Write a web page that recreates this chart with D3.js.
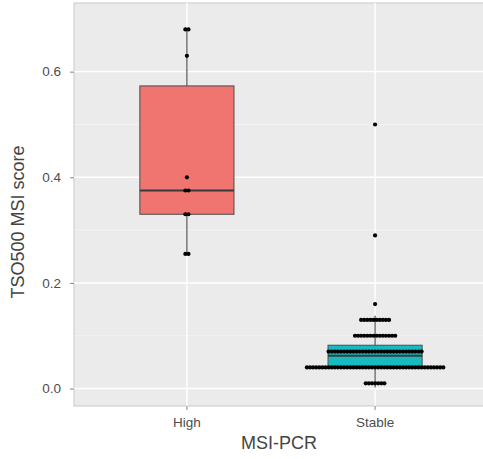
<!DOCTYPE html>
<html>
<head>
<meta charset="utf-8">
<script src="https://cdn.jsdelivr.net/npm/d3@7"></script>
<style>
  body { margin: 0; background: #fff; }
  svg { display: block; font-family: "Liberation Sans", Arial, sans-serif; }
</style>
</head>
<body>
<svg width="483" height="459"></svg>
<script>
// groups on the x axis
var groups = ["High", "Stable"];
var fills = ["#F07470", "#18BAC0"];

// box statistics: [lower whisker, q1, median, q3, upper whisker]
var boxHigh = [0.255, 0.330, 0.375, 0.573, 0.680];
var boxStable = [0.002, 0.041, 0.062, 0.082, 0.138];

// dot rows (binned value, number of dots in the row)
var dotsHighVal = [0.68, 0.63, 0.40, 0.375, 0.33, 0.255];
var dotsHighCnt = [2, 1, 1, 2, 2, 2];
var dotsStableVal = [0.50, 0.29, 0.16, 0.13, 0.10, 0.07, 0.04, 0.01];
var dotsStableCnt = [1, 1, 1, 10, 14, 31, 45, 7];

var yTicks = [0.0, 0.2, 0.4, 0.6];
var yMinor = [0.1, 0.3, 0.5];

window.onload = function() {
    makeChart();
}

function makeChart() {
    var svg = d3.select("svg");

    // panel edges (right edge runs past the window, as in the original)
    var left = 74, top = 3, right = 488, bottom = 406;

    // ggplot discrete scale: centres at left + 0.6 step, left + 1.6 step
    var step = (right - left) / 2.2;
    var cx = function(g) { return left + step * (0.6 + groups.indexOf(g)); };

    var y = d3.scaleLinear()
        .domain([-0.033, 0.730])
        .range([bottom, top]);

    // panel background
    svg.append("rect")
        .attr("x", left).attr("y", top)
        .attr("width", right - left).attr("height", bottom - top)
        .attr("fill", "#EBEBEB")
        .attr("stroke", "#C9C9C9")
        .attr("stroke-width", 1);

    // grid
    svg.selectAll(".minor").data(yMinor).enter().append("line")
        .attr("x1", left).attr("x2", right)
        .attr("y1", function(d) { return y(d); })
        .attr("y2", function(d) { return y(d); })
        .attr("stroke", "#F5F5F5").attr("stroke-width", 0.8);
    svg.selectAll(".major").data(yTicks).enter().append("line")
        .attr("x1", left).attr("x2", right)
        .attr("y1", function(d) { return y(d); })
        .attr("y2", function(d) { return y(d); })
        .attr("stroke", "#FFFFFF").attr("stroke-width", 1.4);
    svg.selectAll(".vgrid").data(groups).enter().append("line")
        .attr("x1", cx).attr("x2", cx)
        .attr("y1", top).attr("y2", bottom)
        .attr("stroke", "#FFFFFF").attr("stroke-width", 1.4);

    // y axis
    var yAxis = svg.append("g")
        .attr("transform", "translate(" + left + ",0)")
        .call(d3.axisLeft(y).tickValues(yTicks).tickFormat(d3.format(".1f")).tickSize(4).tickPadding(9));
    yAxis.select(".domain").remove();
    yAxis.selectAll("line").attr("stroke", "#888");
    yAxis.selectAll("text").attr("fill", "#4D4D4D").style("font-size", "13.5px")
        .style("font-family", "Liberation Sans, Arial, sans-serif");

    // x axis
    var xAxis = svg.append("g")
        .attr("transform", "translate(0," + bottom + ")");
    xAxis.selectAll("line").data(groups).enter().append("line")
        .attr("x1", cx).attr("x2", cx).attr("y1", 0).attr("y2", 4)
        .attr("stroke", "#888");
    xAxis.selectAll("text").data(groups).enter().append("text")
        .attr("x", cx).attr("y", 21)
        .attr("text-anchor", "middle")
        .attr("fill", "#4D4D4D")
        .style("font-size", "13.5px")
        .text(function(d) { return d; });

    // boxes
    var boxes = [boxHigh, boxStable];
    var bw = step * 0.5;
    groups.forEach(function(g, i) {
        var b = boxes[i];
        var c = cx(g);
        var gg = svg.append("g");
        gg.append("line")
            .attr("x1", c).attr("x2", c)
            .attr("y1", y(b[0])).attr("y2", y(b[4]))
            .attr("stroke", "#444").attr("stroke-width", 1.1);
        gg.append("rect")
            .attr("x", c - bw / 2).attr("width", bw)
            .attr("y", y(b[3])).attr("height", y(b[1]) - y(b[3]))
            .attr("fill", fills[i])
            .attr("stroke", "#555").attr("stroke-width", 1.1);
        gg.append("line")
            .attr("x1", c - bw / 2).attr("x2", c + bw / 2)
            .attr("y1", y(b[2])).attr("y2", y(b[2]))
            .attr("stroke", "#3A3A3A").attr("stroke-width", 2);
    });

    // dotplot rows, stacked around the centre
    var dotGap = 3.1;
    function drawDots(g, vals, cnts) {
        var c = cx(g);
        var pts = [];
        vals.forEach(function(v, k) {
            var n = cnts[k];
            for (var j = 0; j < n; j++) {
                pts.push({ v: v, off: (j - (n - 1) / 2) * dotGap });
            }
        });
        svg.selectAll(null).data(pts).enter().append("circle")
            .attr("cx", function(d) { return c + d.off; })
            .attr("cy", function(d) { return y(d.v); })
            .attr("r", 2.1)
            .attr("fill", "#000");
    }
    drawDots("High", dotsHighVal, dotsHighCnt);
    drawDots("Stable", dotsStableVal, dotsStableCnt);

    // axis titles
    svg.append("text")
        .attr("x", (left + right) / 2 - 2).attr("y", 449)
        .attr("text-anchor", "middle")
        .attr("fill", "#444")
        .style("font-size", "18px")
        .text("MSI-PCR");
    svg.append("text")
        .attr("transform", "translate(24,222) rotate(-90)")
        .attr("text-anchor", "middle")
        .attr("fill", "#444")
        .style("font-size", "18px")
        .text("TSO500 MSI score");
}
</script>
</body>
</html>
